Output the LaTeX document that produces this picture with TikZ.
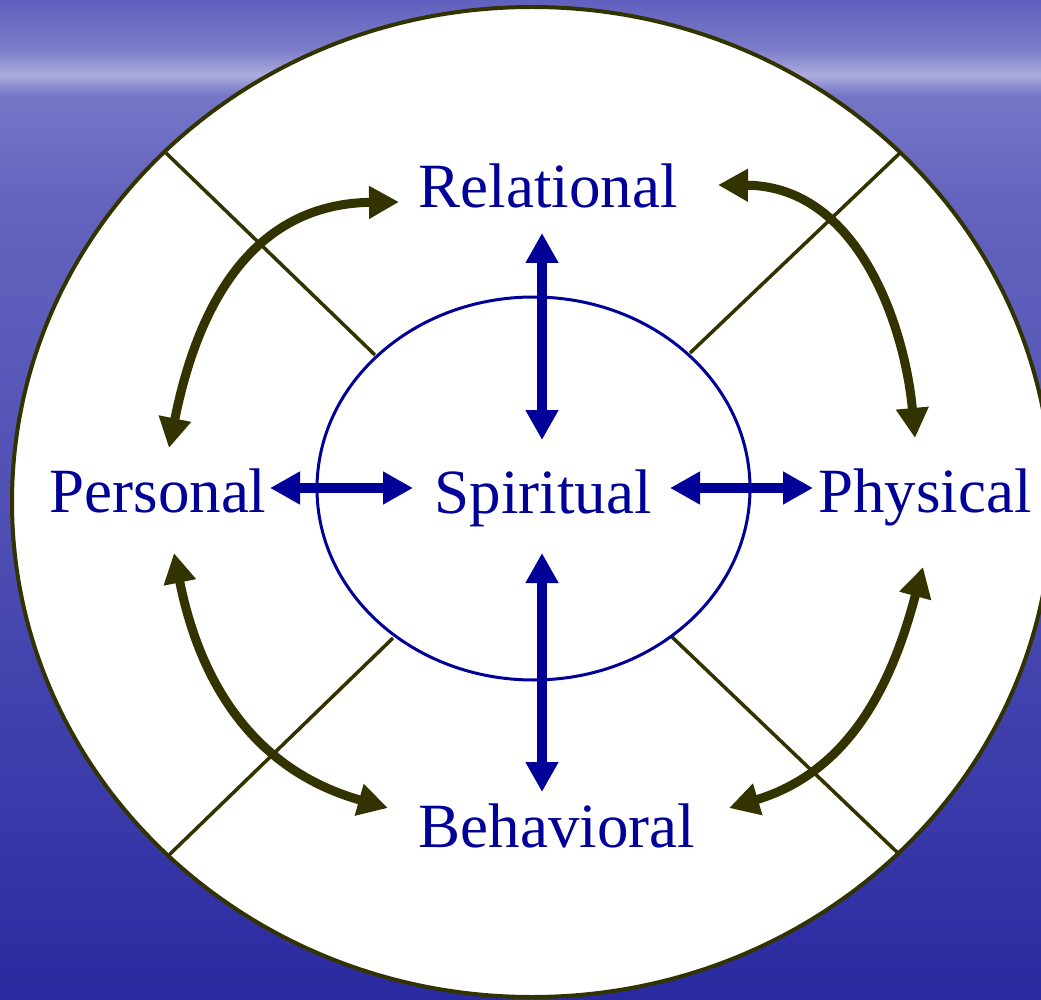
\documentclass[tikz,border=0pt]{standalone}
\usepackage{fontspec}
\setmainfont{Liberation Serif}
\usetikzlibrary{arrows.meta}
\definecolor{rimolive}{RGB}{51,51,0}
\definecolor{txtblue}{RGB}{0,0,153}
\definecolor{bgA}{RGB}{96,96,190}
\definecolor{bgB}{RGB}{125,125,203}
\definecolor{bgC}{RGB}{172,172,222}
\definecolor{bgD}{RGB}{118,118,200}
\definecolor{bgE}{RGB}{100,100,190}
\definecolor{bgF}{RGB}{80,80,180}
\definecolor{bgG}{RGB}{58,58,170}
\definecolor{bgH}{RGB}{42,42,160}
\pgfdeclareverticalshading{bgsh}{100bp}{
  color(0bp)=(bgH);
  color(25bp)=(bgH);
  color(35bp)=(bgG);
  color(50bp)=(bgF);
  color(65bp)=(bgE);
  color(70.25bp)=(bgD);
  color(71.25bp)=(bgC);
  color(72.5bp)=(bgB);
  color(75bp)=(bgA);
  color(100bp)=(bgA)}
\tikzset{
  lbl/.style={font=\fontsize{63pt}{70pt}\selectfont, text=txtblue, inner sep=0pt, anchor=base},
  bluearr/.style={draw=txtblue, line width=10pt,
    {Triangle[length=30pt,width=31pt]}-{Triangle[length=30pt,width=31pt]}},
  olivearr/.style={draw=rimolive, line width=9pt,
    {Triangle[length=30pt,width=31pt]}-{Triangle[length=30pt,width=31pt]}},
  divline/.style={draw=rimolive, line width=3.5pt},
}
\begin{document}
\begin{tikzpicture}[x=1pt,y=-1pt]
\useasboundingbox (0,0) rectangle (1041,1000);
\clip (0,0) rectangle (1041,1000);
\shade[shading=bgsh] (0,0) rectangle (1041,1000);
% outer ring
\draw[fill=white, draw=rimolive, line width=4pt] (532,502) ellipse [x radius=520, y radius=495];
% dividing lines
\draw[divline] (166,153) -- (375,355);
\draw[divline] (900,153) -- (690,353);
\draw[divline] (169,855) -- (393,638);
\draw[divline] (900,855) -- (672,637);
% inner ellipse
\draw[draw=txtblue, line width=3pt] (533.5,488.5) ellipse [x radius=216.5, y radius=191.5];
% labels
\node[lbl] (rel) at (548,208) {Relational};
\node[lbl] (per) at (158,512) {Personal};
\node[lbl] (spi) at (543,513) {Spiritual};
\node[lbl] (phy) at (925,512) {Physical};
\node[lbl] (beh) at (557,847) {Behavioral};
% arrow end points
\coordinate (relS) at (542,233);
\coordinate (spiN) at (542,440);
\coordinate (spiS) at (542,553);
\coordinate (behN) at (542,792);
\coordinate (perE) at (270,488);
\coordinate (spiW) at (413,488);
\coordinate (spiE) at (670,488);
\coordinate (phyW) at (813,488);
\coordinate (perNa) at (169,448);
\coordinate (relW) at (399,202);
\coordinate (relE) at (718,185);
\coordinate (phyN) at (915,438);
\coordinate (perSa) at (174,553);
\coordinate (behW) at (388,808);
\coordinate (phyS) at (923,567);
\coordinate (behE) at (729,808);
% blue arrows
\draw[bluearr] (relS) -- (spiN);
\draw[bluearr] (spiS) -- (behN);
\draw[bluearr] (perE) -- (spiW);
\draw[bluearr] (spiE) -- (phyW);
% olive curved arrows
\draw[olivearr] (perNa) .. controls (191,339) and (234,204) .. (relW);
\draw[olivearr] (relE) .. controls (859,186) and (905,328) .. (phyN);
\draw[olivearr] (perSa) .. controls (196,663) and (240,766) .. (behW);
\draw[olivearr] (phyS) .. controls (898,660) and (862,768) .. (behE);
\end{tikzpicture}
\end{document}
